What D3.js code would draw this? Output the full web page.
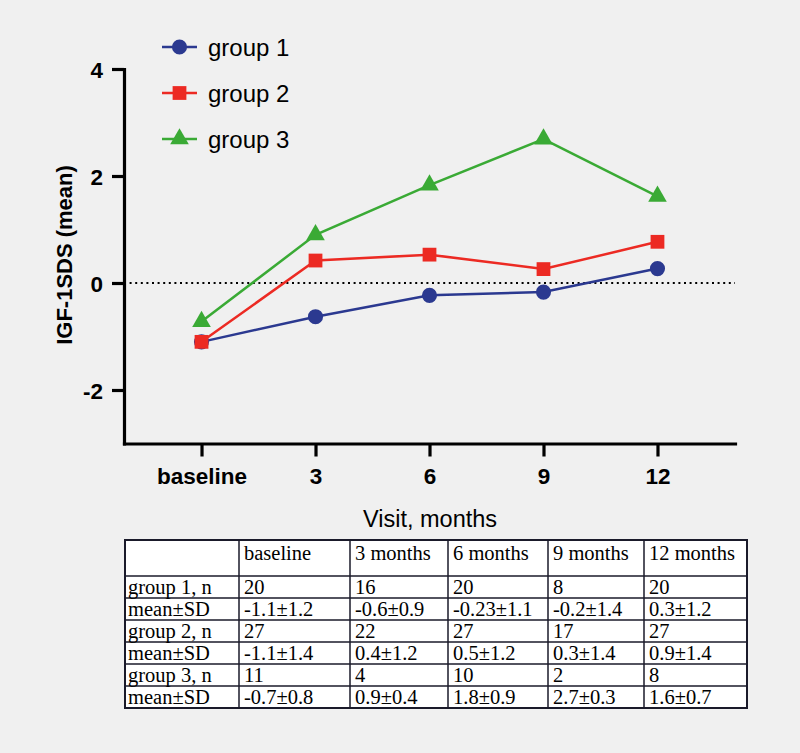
<!DOCTYPE html>
<html>
<head>
<meta charset="utf-8">
<script src="https://cdn.jsdelivr.net/npm/d3@7"></script>
<style>
  html, body { margin: 0; padding: 0; background: #f0f0f0; }
  svg { display: block; }
</style>
</head>
<body>
<svg id="chart" width="800" height="753"></svg>
<script>
// ---- data ----
const visits = ["baseline", "3", "6", "9", "12"];
const seriesNames = ["group 1", "group 2", "group 3"];
const group1 = [-1.1, -0.63, -0.23, -0.17, 0.27];
const group2 = [-1.1, 0.42, 0.53, 0.26, 0.77];
const group3 = [-0.72, 0.9, 1.83, 2.69, 1.62];
const yTicks = [-2, 0, 2, 4];

const tableHeader = ["", "baseline", "3 months", "6 months", "9 months", "12 months"];
const tableRowLabels = ["group 1, n", "mean±SD", "group 2, n", "mean±SD", "group 3, n", "mean±SD"];
const g1n = ["20", "16", "20", "8", "20"];
const g1m = ["-1.1±1.2", "-0.6±0.9", "-0.23±1.1", "-0.2±1.4", "0.3±1.2"];
const g2n = ["27", "22", "27", "17", "27"];
const g2m = ["-1.1±1.4", "0.4±1.2", "0.5±1.2", "0.3±1.4", "0.9±1.4"];
const g3n = ["11", "4", "10", "2", "8"];
const g3m = ["-0.7±0.8", "0.9±0.4", "1.8±0.9", "2.7±0.3", "1.6±0.7"];

// ---- styling ----
const colors = ["#2b3990", "#ec2a23", "#3aaa35"];
const shapes = [d3.symbolCircle, d3.symbolSquare, d3.symbolTriangle];
const shapeSizes = [180, 190, 150];

const svg = d3.select("#chart");
const sans = "'Liberation Sans', Arial, Helvetica, sans-serif";

const x = d3.scalePoint().domain(visits).range([124, 735]).padding(0.68);
const y = d3.scaleLinear().domain([-3, 4]).range([443.5, 69]);

// zero dotted line
svg.append("line")
  .attr("x1", 124).attr("x2", 735)
  .attr("y1", y(0)).attr("y2", y(0))
  .attr("stroke", "#000").attr("stroke-width", 2.2)
  .attr("stroke-dasharray", "2,3.6");

// axes
const xAxis = svg.append("g")
  .attr("transform", `translate(0,${y(-3)})`)
  .call(d3.axisBottom(x).tickSizeInner(13).tickSizeOuter(0).tickPadding(9));
const yAxis = svg.append("g")
  .attr("transform", `translate(124,0)`)
  .call(d3.axisLeft(y).tickValues(yTicks).tickFormat(d => String(d))
        .tickSizeInner(12).tickSizeOuter(0).tickPadding(9));

[xAxis, yAxis].forEach(a => {
  a.select(".domain").attr("stroke", "#000").attr("stroke-width", 3.2).attr("stroke-linecap", "square");
  a.selectAll(".tick line").attr("stroke", "#000").attr("stroke-width", 3.2);
  a.selectAll(".tick text")
    .attr("fill", "#000")
    .style("font-family", sans)
    .style("font-weight", "bold")
    .style("font-size", "22.5px");
});
xAxis.selectAll(".tick text").attr("dy", "0.8em");
yAxis.selectAll(".tick text").attr("dy", "0.36em");

// axis titles
svg.append("text")
  .attr("transform", `translate(72,255) rotate(-90)`)
  .attr("text-anchor", "middle")
  .style("font-family", sans).style("font-weight", "bold").style("font-size", "22px")
  .text("IGF-1SDS (mean)");
svg.append("text")
  .attr("x", 430).attr("y", 527)
  .attr("text-anchor", "middle")
  .style("font-family", sans).style("font-size", "23.5px")
  .text("Visit, months");

// series
const allSeries = [group1, group2, group3];
const line = d3.line().x((d, i) => x(visits[i])).y(d => y(d));
allSeries.forEach((vals, s) => {
  svg.append("path")
    .datum(vals)
    .attr("d", line)
    .attr("fill", "none")
    .attr("stroke", colors[s])
    .attr("stroke-width", 2.5);
});
allSeries.forEach((vals, s) => {
  svg.append("g").selectAll("path")
    .data(vals)
    .join("path")
    .attr("transform", (d, i) => `translate(${x(visits[i])},${y(d)})`)
    .attr("d", d3.symbol().type(shapes[s]).size(shapeSizes[s]))
    .attr("fill", colors[s]);
});

// legend
const legend = svg.append("g");
seriesNames.forEach((name, s) => {
  const ly = 47 + s * 46;
  legend.append("line")
    .attr("x1", 162).attr("x2", 197).attr("y1", ly).attr("y2", ly)
    .attr("stroke", colors[s]).attr("stroke-width", 2.5);
  legend.append("path")
    .attr("transform", `translate(179.5,${ly})`)
    .attr("d", d3.symbol().type(shapes[s]).size(shapeSizes[s]))
    .attr("fill", colors[s]);
  legend.append("text")
    .attr("x", 208).attr("y", ly).attr("dy", "0.36em")
    .style("font-family", sans).style("font-size", "24px")
    .text(name);
});

// table
const colX = [125, 239, 350, 448, 548, 644, 747];
const rowY = [540, 576, 598, 620, 642, 664, 686, 708];
const tableRows = [g1n, g1m, g2n, g2m, g3n, g3m];
const tg = svg.append("g");
tg.append("rect")
  .attr("x", colX[0]).attr("y", rowY[0])
  .attr("width", colX[6] - colX[0]).attr("height", rowY[7] - rowY[0])
  .attr("fill", "#fff").attr("stroke", "#1a1a2a").attr("stroke-width", 2);
rowY.slice(1, 7).forEach(ry => {
  tg.append("line").attr("x1", colX[0]).attr("x2", colX[6]).attr("y1", ry).attr("y2", ry)
    .attr("stroke", "#1a1a2a").attr("stroke-width", 1.5);
});
colX.slice(1, 6).forEach(cx => {
  tg.append("line").attr("x1", cx).attr("x2", cx).attr("y1", rowY[0]).attr("y2", rowY[7])
    .attr("stroke", "#1a1a2a").attr("stroke-width", 1.5);
});
const serif = "'Liberation Serif', 'Times New Roman', Times, serif";
const tfs = "20.5px";
tableHeader.forEach((h, c) => {
  tg.append("text").attr("x", colX[c] + 5).attr("y", rowY[0] + 20)
    .style("font-family", serif).style("font-size", tfs).text(h);
});
tableRowLabels.forEach((lab, r) => {
  const by = rowY[r + 1] + 18;
  tg.append("text").attr("x", colX[0] + 3).attr("y", by)
    .style("font-family", serif).style("font-size", tfs).text(lab);
  tableRows[r].forEach((v, c) => {
    tg.append("text").attr("x", colX[c + 1] + 5).attr("y", by)
      .style("font-family", serif).style("font-size", tfs).text(v);
  });
});
</script>
</body>
</html>
